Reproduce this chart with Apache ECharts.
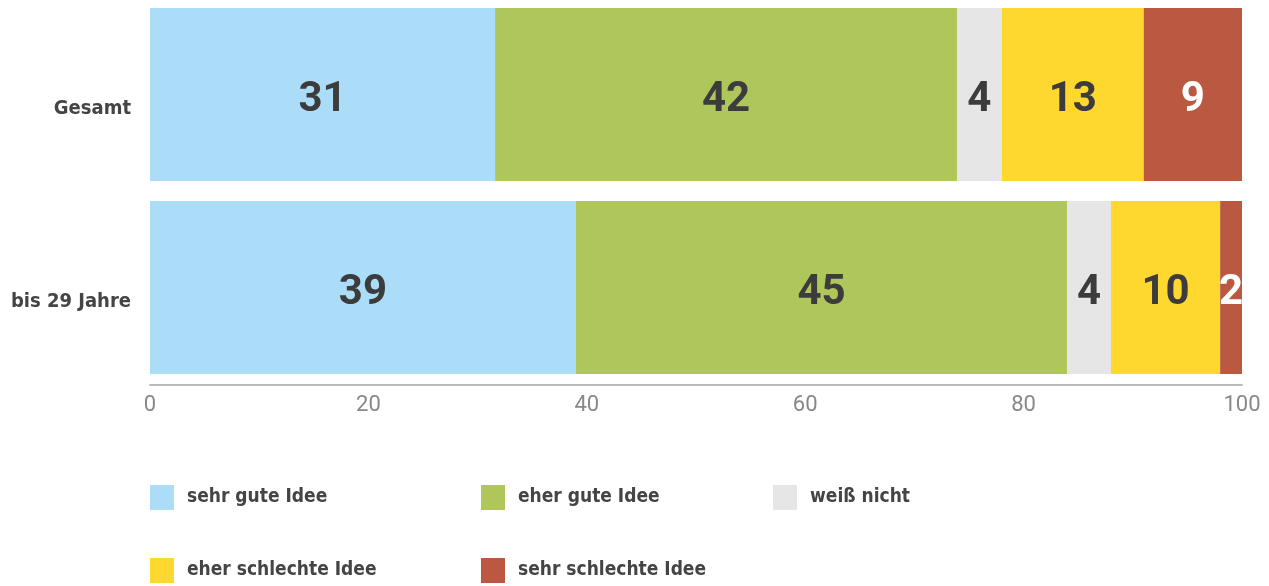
<!DOCTYPE html>
<html>
<head>
<meta charset="utf-8">
<title>Umfrage</title>
<script src="https://cdn.jsdelivr.net/npm/echarts@6/dist/echarts.min.js"></script>
<style>
  html, body { margin: 0; padding: 0; background: #fff; }
  #chart { width: 1269px; height: 586px; }
</style>
</head>
<body>
<div id="chart"></div>
<script>
// Daten (Prozent)
var categories = ['Gesamt', 'bis 29 Jahre']
var seriesNames = ['sehr gute Idee', 'eher gute Idee', 'weiß nicht', 'eher schlechte Idee', 'sehr schlechte Idee']
var sehrGut = [31.6, 39]
var eherGut = [42.3, 45]
var weissNicht = [4.1, 4]
var eherSchlecht = [13.0, 10]
var sehrSchlecht = [9.0, 2]
var xTicks = [0, 20, 40, 60, 80, 100]

var colors = ['#abdcf8', '#afc65b', '#e6e6e6', '#fed72f', '#ba5842']
var labelColors = ['#3c3c3c', '#3c3c3c', '#3c3c3c', '#3c3c3c', '#ffffff']
var condensed = "'DejaVu Sans Condensed', sans-serif"

var rows = [sehrGut, eherGut, weissNicht, eherSchlecht, sehrSchlecht]

var series = rows.map(function (r, k) {
  return {
    name: seriesNames[k],
    type: 'bar',
    stack: 'all',
    barWidth: 173,
    itemStyle: { color: colors[k] },
    label: {
      show: true,
      position: 'inside',
      offset: [0, 6],
      color: labelColors[k],
      fontFamily: 'Roboto',
      fontWeight: 'bold',
      fontSize: 42,
      // Beschriftung ohne Nachkommastellen
      formatter: function (p) { return Math.floor(p.value) }
    },
    data: r
  }
})

// Legende: feste Spalten
var legendPos = [[150, 485], [481, 485], [773, 485], [150, 558], [481, 558]]
var legends = seriesNames.map(function (n, k) {
  return {
    data: [n],
    left: legendPos[k][0],
    top: legendPos[k][1],
    padding: 0,
    itemWidth: 24,
    itemHeight: 25,
    itemGap: 0,
    icon: 'rect',
    selectedMode: false,
    textStyle: {
      fontFamily: condensed,
      fontWeight: 'bold',
      fontSize: 19,
      color: '#444',
      padding: [0, 0, 0, 8]
    }
  }
})

var chart = echarts.init(document.getElementById('chart'))
chart.setOption({
  animation: false,
  grid: { left: 150, right: 27, top: -2, bottom: 202, containLabel: false, outerBoundsMode: 'none' },
  xAxis: {
    type: 'value',
    min: 0,
    max: 100,
    interval: 20,
    offset: 1,
    splitLine: { show: false },
    axisTick: { show: false },
    axisLine: { show: true, lineStyle: { color: '#bbb', width: 2 } },
    axisLabel: {
      color: '#888',
      fontFamily: 'Roboto',
      fontSize: 22,
      margin: 9,
      formatter: function (v) { return xTicks.indexOf(v) >= 0 ? v : '' }
    }
  },
  yAxis: {
    type: 'category',
    inverse: true,
    data: categories,
    axisLine: { show: false },
    axisTick: { show: false },
    axisLabel: {
      margin: 19,
      color: '#444',
      fontFamily: condensed,
      fontWeight: 'bold',
      fontSize: 20,
      verticalAlign: 'top',
      lineHeight: 28
    }
  },
  legend: legends,
  series: series
})
</script>
</body>
</html>
